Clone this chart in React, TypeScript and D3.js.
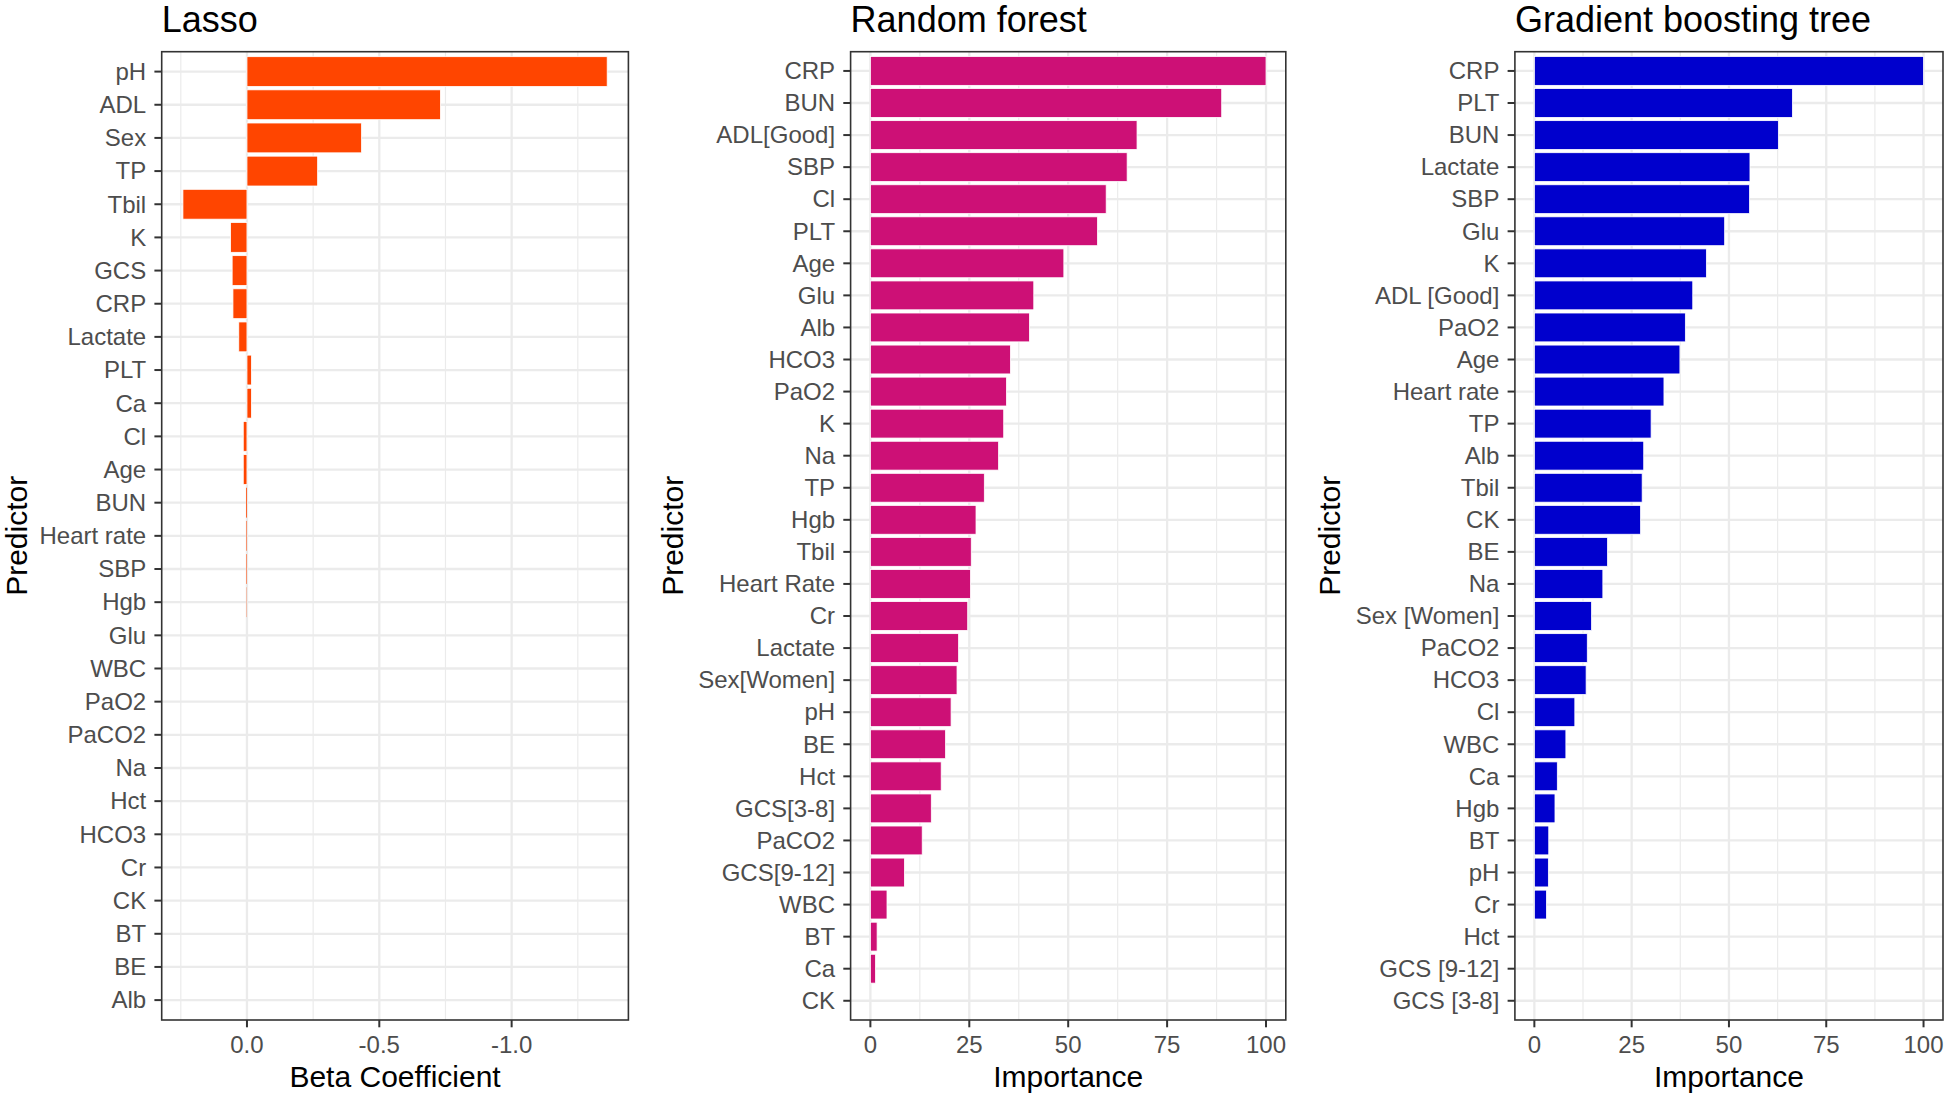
import React from "react";
import * as d3 from "d3";

// ---------- Data ----------
const lassoCategories = [
  "pH", "ADL", "Sex", "TP", "Tbil", "K", "GCS", "CRP", "Lactate", "PLT", "Ca", "Cl", "Age",
  "BUN", "Heart rate", "SBP", "Hgb", "Glu", "WBC", "PaO2", "PaCO2", "Na", "Hct", "HCO3",
  "Cr", "CK", "BT", "BE", "Alb",
];
const lassoValues = [
  -1.361, -0.731, -0.433, -0.267, 0.242, 0.062, 0.056, 0.053, 0.031, -0.017, -0.017, 0.014, 0.014,
  0.003, 0.002, 0.002, 0.001, 0, 0, 0, 0, 0, 0, 0,
  0, 0, 0, 0, 0,
];
const lassoTicks = [0, -0.5, -1.0];
const lassoMinorTicks = [0.25, -0.25, -0.75, -1.25];

const rfCategories = [
  "CRP", "BUN", "ADL[Good]", "SBP", "Cl", "PLT", "Age", "Glu", "Alb", "HCO3", "PaO2", "K", "Na",
  "TP", "Hgb", "Tbil", "Heart Rate", "Cr", "Lactate", "Sex[Women]", "pH", "BE", "Hct",
  "GCS[3-8]", "PaCO2", "GCS[9-12]", "WBC", "BT", "Ca", "CK",
];
const rfValues = [
  100, 88.8, 67.4, 64.9, 59.6, 57.4, 48.9, 41.3, 40.2, 35.4, 34.4, 33.7, 32.4,
  28.8, 26.7, 25.5, 25.3, 24.6, 22.3, 21.9, 20.4, 19.0, 17.9,
  15.4, 13.1, 8.6, 4.2, 1.7, 1.3, 0,
];

const gbtCategories = [
  "CRP", "PLT", "BUN", "Lactate", "SBP", "Glu", "K", "ADL [Good]", "PaO2", "Age", "Heart rate",
  "TP", "Alb", "Tbil", "CK", "BE", "Na", "Sex [Women]", "PaCO2", "HCO3", "Cl", "WBC", "Ca",
  "Hgb", "BT", "pH", "Cr", "Hct", "GCS [9-12]", "GCS [3-8]",
];
const gbtValues = [
  100, 66.3, 62.7, 55.4, 55.3, 48.9, 44.2, 40.7, 38.8, 37.4, 33.3,
  30.0, 28.1, 27.7, 27.3, 18.8, 17.6, 14.7, 13.6, 13.3, 10.4, 8.1, 5.9,
  5.3, 3.7, 3.6, 3.1, 0, 0, 0,
];
const importanceTicks = [0, 25, 50, 75, 100];
const importanceMinorTicks = [12.5, 37.5, 62.5, 87.5];

// ---------- Layout ----------
const W = 1946;
const H = 1096;
const PANEL_TOP = 51.7;
const PANEL_BOTTOM = 1020;
const FONT = "'Liberation Sans', Arial, Helvetica, sans-serif";

type PanelSpec = {
  title: string;
  categories: string[];
  values: number[];
  color: string;
  left: number;
  right: number;
  xTitle: string;
  ticks: number[];
  minor: number[];
  reversed: boolean;
  predX: number;
  fmt: (v: number) => string;
};

const panels: PanelSpec[] = [
  {
    title: "Lasso",
    categories: lassoCategories,
    values: lassoValues,
    color: "#FF4500",
    left: 161.7,
    right: 628.4,
    xTitle: "Beta Coefficient",
    ticks: lassoTicks,
    minor: lassoMinorTicks,
    reversed: true,
    predX: 27,
    fmt: (v) => v.toFixed(1),
  },
  {
    title: "Random forest",
    categories: rfCategories,
    values: rfValues,
    color: "#CD1076",
    left: 850.6,
    right: 1285.8,
    xTitle: "Importance",
    ticks: importanceTicks,
    minor: importanceMinorTicks,
    reversed: false,
    predX: 683,
    fmt: (v) => String(v),
  },
  {
    title: "Gradient boosting tree",
    categories: gbtCategories,
    values: gbtValues,
    color: "#0000CD",
    left: 1514.9,
    right: 1943,
    xTitle: "Importance",
    ticks: importanceTicks,
    minor: importanceMinorTicks,
    reversed: false,
    predX: 1340,
    fmt: (v) => String(v),
  },
];

function Panel({ p }: { p: PanelSpec }) {
  const lo = Math.min(0, d3.min(p.values) as number);
  const hi = Math.max(0, d3.max(p.values) as number);
  const pad = (hi - lo) * 0.05;
  const x = d3
    .scaleLinear()
    .domain(p.reversed ? [hi + pad, lo - pad] : [lo - pad, hi + pad])
    .range([p.left, p.right]);
  const y = d3
    .scalePoint<string>()
    .domain(p.categories)
    .range([PANEL_TOP, PANEL_BOTTOM])
    .padding(0.6);
  const step = y.step();
  const bh = step * 0.9;
  const cx = (p.left + p.right) / 2;
  const cy = (PANEL_TOP + PANEL_BOTTOM) / 2;
  const x0 = x(0);

  return (
    <g>
      {/* title */}
      <text x={p.left} y={32} fontSize={36} fontFamily={FONT} fill="#000">
        {p.title}
      </text>
      {/* panel background */}
      <rect x={p.left} y={PANEL_TOP} width={p.right - p.left} height={PANEL_BOTTOM - PANEL_TOP} fill="#fff" />
      {/* minor grid */}
      {p.minor.map((v) => (
        <line key={"mi" + v} x1={x(v)} x2={x(v)} y1={PANEL_TOP} y2={PANEL_BOTTOM} stroke="#EBEBEB" strokeWidth={1.2} />
      ))}
      {/* major grid */}
      {p.ticks.map((v) => (
        <line key={"ma" + v} x1={x(v)} x2={x(v)} y1={PANEL_TOP} y2={PANEL_BOTTOM} stroke="#EBEBEB" strokeWidth={2.3} />
      ))}
      {p.categories.map((c) => (
        <line key={"hg" + c} x1={p.left} x2={p.right} y1={y(c)} y2={y(c)} stroke="#EBEBEB" strokeWidth={2.3} />
      ))}
      {/* bars */}
      {p.categories.map((c, i) => {
        const v = p.values[i];
        if (v === 0) return null;
        const xv = x(v);
        const bx = Math.min(xv, x0);
        const bw = Math.abs(xv - x0);
        return (
          <rect
            key={"b" + c}
            x={bx}
            y={(y(c) as number) - bh / 2}
            width={bw}
            height={bh}
            fill={p.color}
            stroke={bw > 2 ? "#fff" : "none"}
            strokeWidth={0.8}
          />
        );
      })}
      {/* border */}
      <rect
        x={p.left}
        y={PANEL_TOP}
        width={p.right - p.left}
        height={PANEL_BOTTOM - PANEL_TOP}
        fill="none"
        stroke="#333333"
        strokeWidth={1.6}
      />
      {/* y axis ticks + labels */}
      {p.categories.map((c) => (
        <g key={"yt" + c}>
          <line x1={p.left - 7.3} x2={p.left} y1={y(c)} y2={y(c)} stroke="#333333" strokeWidth={2} />
          <text
            x={p.left - 15.5}
            y={(y(c) as number) + 8.3}
            textAnchor="end"
            fontSize={24}
            fontFamily={FONT}
            fill="#4D4D4D"
          >
            {c}
          </text>
        </g>
      ))}
      {/* x axis ticks + labels */}
      {p.ticks.map((v) => (
        <g key={"xt" + v}>
          <line x1={x(v)} x2={x(v)} y1={PANEL_BOTTOM} y2={PANEL_BOTTOM + 7.3} stroke="#333333" strokeWidth={2} />
          <text x={x(v)} y={1053.3} textAnchor="middle" fontSize={24} fontFamily={FONT} fill="#4D4D4D">
            {p.fmt(v)}
          </text>
        </g>
      ))}
      {/* axis titles */}
      <text x={cx} y={1086.5} textAnchor="middle" fontSize={30} fontFamily={FONT} fill="#000">
        {p.xTitle}
      </text>
      <text
        transform={`translate(${p.predX},${cy}) rotate(-90)`}
        textAnchor="middle"
        fontSize={30}
        fontFamily={FONT}
        fill="#000"
      >
        Predictor
      </text>
    </g>
  );
}

export default function App() {
  return (
    <svg
      width={W}
      height={H}
      viewBox={`0 0 ${W} ${H}`}
      style={{ position: "absolute", left: 0, top: 0, background: "#fff" }}
    >
      <rect x={0} y={0} width={W} height={H} fill="#fff" />
      {panels.map((p) => (
        <Panel key={p.title} p={p} />
      ))}
    </svg>
  );
}
